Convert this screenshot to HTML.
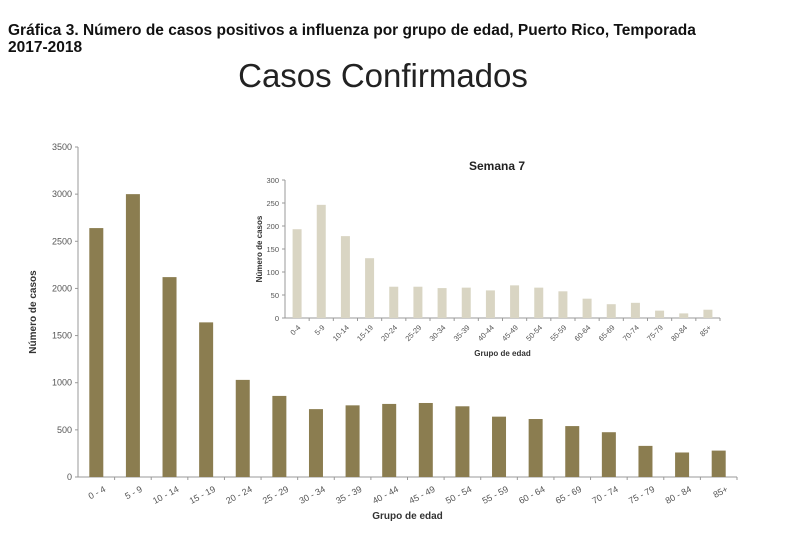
<!DOCTYPE html>
<html><head><meta charset="utf-8"><style>
body{margin:0;background:#fff;width:800px;height:547px;overflow:hidden}
svg{display:block;font-family:"Liberation Sans",sans-serif}
</style></head><body>
<svg id="c" width="800" height="547">
<text x="8" y="35" font-size="15.5" font-weight="bold" fill="#111">Gráfica 3. Número de casos positivos a influenza por grupo de edad, Puerto Rico, Temporada</text>
<text x="8" y="52" font-size="15.5" font-weight="bold" fill="#111">2017-2018</text>
<text x="383" y="87" font-size="33" text-anchor="middle" fill="#222">Casos Confirmados</text>
<g id="main"></g>
<g id="inset"></g>
</svg>
<script>
const categories=["0 - 4","5 - 9","10 - 14","15 - 19","20 - 24","25 - 29","30 - 34","35 - 39","40 - 44","45 - 49","50 - 54","55 - 59","60 - 64","65 - 69","70 - 74","75 - 79","80 - 84","85+"];
const mainValues=[2640,3000,2120,1640,1030,860,720,760,775,785,750,640,615,540,475,330,260,280];
const mainTicks=[0,500,1000,1500,2000,2500,3000,3500];
const insetCategories=["0-4","5-9","10-14","15-19","20-24","25-29","30-34","35-39","40-44","45-49","50-54","55-59","60-64","65-69","70-74","75-79","80-84","85+"];
const insetValues=[193,246,178,130,68,68,65,66,60,71,66,58,42,30,33,16,10,18];
const insetTicks=[0,50,100,150,200,250,300];
const NS="http://www.w3.org/2000/svg";
function mk(p,t,a,txt){const e=document.createElementNS(NS,t);for(const k in a)e.setAttribute(k,a[k]);if(txt!=null)e.textContent=txt;p.appendChild(e);return e;}
function draw(g,o){
  const y=v=>o.y0-(v/o.max)*(o.y0-o.y1);
  const step=(o.x1-o.x0)/o.cats.length;
  const x=i=>o.x0+step*(i+0.5);
  const ax=mk(g,'line',{x1:o.x0,y1:o.y1,x2:o.x0,y2:o.y0,stroke:'#999'});
  
  const bx=mk(g,'line',{x1:o.x0,y1:o.y0,x2:o.x1,y2:o.y0,stroke:'#999'});
  
  o.ticks.forEach(t=>{
    const tl=mk(g,'text',{x:o.x0-6,y:y(t)+3,'font-size':o.fs,'text-anchor':'end',fill:'#555'},t);
    
    mk(g,'line',{x1:o.x0-3,y1:y(t),x2:o.x0,y2:y(t),stroke:'#999'});
  });
  o.vals.forEach((v,i)=>{
    const r=mk(g,'rect',{x:x(i)-o.bw/2,y:y(v),width:o.bw,height:o.y0-y(v),fill:o.col});
    
    mk(g,'line',{x1:o.x0+step*(i+1),y1:o.y0,x2:o.x0+step*(i+1),y2:o.y0+3,stroke:'#999'});
    const lx=x(i)+o.lo,ly=o.y0+o.ld;
    const l=mk(g,'text',{x:lx,y:ly,'font-size':o.fs,'text-anchor':'end',fill:'#555',transform:`rotate(${o.rot} ${lx} ${ly})`},o.cats[i]);
    
  });
  const xt=mk(g,'text',{x:(o.x0+o.x1)/2,y:o.xty,'font-size':o.tfs,'font-weight':'bold','text-anchor':'middle',fill:'#333'},'Grupo de edad');
  
  const cy=(o.y0+o.y1)/2;
  const yt=mk(g,'text',{x:o.ytx,y:cy,'font-size':o.tfs,'font-weight':'bold','text-anchor':'middle',fill:'#333',transform:`rotate(-90 ${o.ytx} ${cy})`},'Número de casos');
  
}
draw(document.getElementById('main'),{p:'main-',cats:categories,vals:mainValues,ticks:mainTicks,max:3500,x0:78,x1:737,y0:477,y1:147,bw:14,col:'#8b7d50',fs:9,tfs:10,rot:-28,lo:10,ld:14,xty:519,ytx:36});
draw(document.getElementById('inset'),{p:'inset-',cats:insetCategories,vals:insetValues,ticks:insetTicks,max:300,x0:285,x1:720,y0:318,y1:180,bw:9,col:'#d9d5c3',fs:7.5,tfs:8,rot:-45,lo:4,ld:10,xty:356,ytx:262});
const st=mk(document.getElementById('inset'),'text',{x:497,y:170,'font-size':12,'font-weight':'bold','text-anchor':'middle',fill:'#222'},'Semana 7');


</script>
</body></html>
